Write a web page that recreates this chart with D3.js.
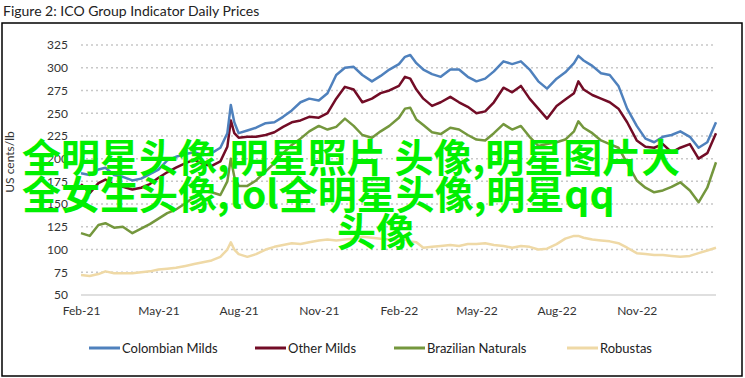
<!DOCTYPE html>
<html>
<head>
<meta charset="utf-8">
<script src="https://cdn.jsdelivr.net/npm/d3@7"></script>
<style>
  body { margin: 0; background: #fff; }
  svg { display: block; font-family: Lato, "Open Sans", sans-serif; }
</style>
</head>
<body>
<svg id="svg"></svg>
<script>
const svgWidth = 745;
const svgHeight = 378;

// sample dates (roughly every 10 days, extra points round the July 2021 frost spike)
const dates = [
  "2021-02-01","2021-02-11","2021-02-21","2021-03-01","2021-03-11","2021-03-21",
  "2021-04-01","2021-04-11","2021-04-21","2021-05-01","2021-05-11","2021-05-21",
  "2021-06-01","2021-06-11","2021-06-21","2021-07-01","2021-07-11","2021-07-19",
  "2021-07-23","2021-07-27","2021-08-01","2021-08-11","2021-08-21","2021-09-01",
  "2021-09-11","2021-09-21","2021-10-01","2021-10-11","2021-10-21","2021-11-01",
  "2021-11-11","2021-11-21","2021-12-01","2021-12-11","2021-12-21","2022-01-01",
  "2022-01-11","2022-01-21","2022-02-01","2022-02-08","2022-02-14","2022-02-21",
  "2022-03-01","2022-03-11","2022-03-21","2022-04-01","2022-04-11","2022-04-21",
  "2022-05-01","2022-05-11","2022-05-21","2022-06-01","2022-06-11","2022-06-21",
  "2022-07-01","2022-07-11","2022-07-21","2022-08-01","2022-08-11","2022-08-21",
  "2022-08-26","2022-09-01","2022-09-11","2022-09-21","2022-10-01","2022-10-11",
  "2022-10-21","2022-11-01","2022-11-11","2022-11-21","2022-12-01","2022-12-11",
  "2022-12-21","2023-01-01","2023-01-11","2023-01-21","2023-01-31"
];

const colombianMilds = [
  184,182,188,190,182,180, 176,178,183,188,198,202, 205,207,204,206,212,228,
  259,240,228,231,234,239, 240,246,253,262,266,264, 272,292,300,301,292,285,
  291,298,304,312,314,305, 298,293,290,298,298,290, 285,288,296,307,304,307,
  298,285,277,288,295,305, 313,308,302,294,292,280, 255,236,222,218,224,226,
  230,224,212,218,240
];

const otherMilds = [
  172,162,173,177,171,169, 166,168,172,179,185,190, 195,199,194,192,197,213,
  242,228,223,224,224,226, 229,235,240,242,246,245, 250,266,279,276,262,266,
  272,275,280,290,288,276, 266,258,262,268,262,257, 250,252,262,278,273,280,
  266,255,244,258,265,272, 285,276,270,266,262,255, 240,220,213,212,216,207,
  212,216,200,206,228
];

const brazilianNaturals = [
  118,115,127,129,124,125, 118,123,128,134,140,144, 151,158,164,163,160,175,
  200,180,170,170,176,186, 195,206,215,222,230,236, 232,235,244,236,226,223,
  230,236,245,255,256,243, 237,229,227,234,232,226, 221,220,228,238,232,236,
  224,214,216,218,221,230, 241,234,228,220,216,212, 195,176,168,163,165,169,
  174,165,152,168,196
];

const robustas = [
  72,71,73,76,74,74, 74,75,76,78,79,80, 82,84,86,88,92,100,
  108,100,95,92,95,100, 103,105,107,106,108,110, 111,110,111,112,114,113,
  112,111,110,111,109,108, 102,103,104,105,104,106, 106,107,105,104,102,104,
  103,100,101,106,112,115, 115,113,111,110,109,107, 102,96,95,94,94,93,
  92,93,96,99,102
];

const seriesNames = ["Colombian Milds", "Other Milds", "Brazilian Naturals", "Robustas"];
const seriesValues = [colombianMilds, otherMilds, brazilianNaturals, robustas];
const seriesColors = ["#4f81bd", "#720c26", "#74973d", "#efd9a6"];

const yTicks = [50, 75, 100, 125, 150, 175, 200, 225, 250, 275, 300, 325];
const xTickDates = ["2021-02-01","2021-05-01","2021-08-01","2021-11-01",
                    "2022-02-01","2022-05-01","2022-08-01","2022-11-01"];

const watermarkLines = ["全明星头像,明星照片 头像,明星图片大", "全女生头像,lol全明星头像,明星qq", "头像"];

const parse = d3.timeParse("%Y-%m-%d");

let svg = d3.select("#svg").attr("width", svgWidth).attr("height", svgHeight);

const xScale = d3.scaleTime()
  .domain([parse("2021-02-01"), parse("2023-01-31")])
  .range([81, 716]);
const yScale = d3.scaleLinear().domain([50, 325]).range([295, 45]);

// title + frame
svg.append("text")
  .attr("x", 3).attr("y", 16)
  .style("font-size", "14px").attr("fill", "#222")
  .text("Figure 2: ICO Group Indicator Daily Prices");

svg.append("rect")
  .attr("x", 2).attr("y", 23).attr("width", 740).attr("height", 353)
  .attr("fill", "none").attr("stroke", "#000").attr("stroke-width", 1.5);

// gridlines
const grid = svg.append("g");
grid.selectAll("line")
  .data(yTicks)
  .join("line")
  .attr("x1", 81).attr("x2", 716)
  .attr("y1", d => yScale(d)).attr("y2", d => yScale(d))
  .attr("stroke", d => d === 50 ? "#d4d4d4" : "#c8c8c8")
  .attr("stroke-width", 1.5)
  .attr("stroke-dasharray", d => d === 50 ? null : "2,3");

// y axis
const yAxis = svg.append("g")
  .attr("transform", "translate(68,0)")
  .call(d3.axisLeft(yScale).tickValues(yTicks).tickSize(0).tickPadding(0));
yAxis.select(".domain").remove();
yAxis.selectAll("text").style("font-size", "12px").attr("fill", "#333")
  .style("font-family", "Lato, sans-serif");

svg.append("text")
  .attr("transform", "translate(14,162) rotate(-90)")
  .attr("text-anchor", "middle")
  .style("font-size", "12px").attr("fill", "#333")
  .text("US cents/lb");

// x axis
const xAxis = svg.append("g")
  .attr("transform", "translate(0,306)")
  .call(d3.axisBottom(xScale)
    .tickValues(xTickDates.map(parse))
    .tickFormat(d3.timeFormat("%b-%y"))
    .tickSize(0).tickPadding(0));
xAxis.select(".domain").remove();
xAxis.selectAll("text").style("font-size", "12px").attr("fill", "#333")
  .style("font-family", "Lato, sans-serif");

// series lines
const line = d3.line()
  .x((d, i) => xScale(parse(dates[i])))
  .y(d => yScale(d));

const order = [3, 2, 1, 0];
svg.append("g").selectAll("path")
  .data(order)
  .join("path")
  .attr("d", k => line(seriesValues[k]))
  .attr("fill", "none")
  .attr("stroke", k => seriesColors[k])
  .attr("stroke-width", 2.5)
  .attr("stroke-linejoin", "round");

// legend
const legendX = [89, 255, 394, 567];
const legend = svg.append("g").selectAll("g")
  .data(seriesNames)
  .join("g")
  .attr("transform", (d, i) => `translate(${legendX[i]},348)`);
legend.append("line")
  .attr("x1", 0).attr("x2", 31)
  .attr("stroke", (d, i) => seriesColors[i])
  .attr("stroke-width", 3);
legend.append("text")
  .attr("x", 33).attr("dy", "0.35em")
  .style("font-size", "13px").attr("fill", "#222")
  .text(d => d);

// overlaid caption text
const wmPos = [[22, 172], [22, 209], [337, 246]];
svg.append("g").selectAll("text")
  .data(watermarkLines)
  .join("text")
  .attr("x", (d, i) => wmPos[i][0])
  .attr("y", (d, i) => wmPos[i][1])
  .style("font-family", "'Noto Sans CJK SC', sans-serif")
  .style("font-size", "39px")
  .style("font-weight", "bold")
  .attr("fill", "#00f000")
  .text(d => d);
</script>
</body>
</html>
